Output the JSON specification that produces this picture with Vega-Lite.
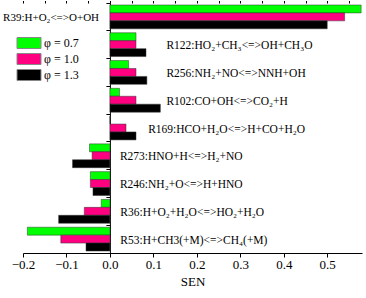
{
  "$schema": "https://vega.github.io/schema/vega-lite/v6.json",
  "width": 339,
  "height": 250,
  "autosize": "none",
  "padding": {"left": 23, "top": 3, "right": 4, "bottom": 45},
  "config": {
    "font": "Liberation Serif",
    "view": {"stroke": null},
    "axis": {"domainColor": "black", "tickColor": "black", "labelColor": "black", "titleColor": "black", "grid": false, "labelFont": "Liberation Serif", "titleFont": "Liberation Serif"}
  },
  "datasets": {
    "bars": [
      {"r": "R39", "phi": "0.7", "sen": 0.578}, {"r": "R39", "phi": "1.0", "sen": 0.540}, {"r": "R39", "phi": "1.3", "sen": 0.500},
      {"r": "R122", "phi": "0.7", "sen": 0.060}, {"r": "R122", "phi": "1.0", "sen": 0.060}, {"r": "R122", "phi": "1.3", "sen": 0.083},
      {"r": "R256", "phi": "0.7", "sen": 0.043}, {"r": "R256", "phi": "1.0", "sen": 0.060}, {"r": "R256", "phi": "1.3", "sen": 0.085},
      {"r": "R102", "phi": "0.7", "sen": 0.022}, {"r": "R102", "phi": "1.0", "sen": 0.060}, {"r": "R102", "phi": "1.3", "sen": 0.116},
      {"r": "R169", "phi": "0.7", "sen": 0.0}, {"r": "R169", "phi": "1.0", "sen": 0.037}, {"r": "R169", "phi": "1.3", "sen": 0.060},
      {"r": "R273", "phi": "0.7", "sen": -0.047}, {"r": "R273", "phi": "1.0", "sen": -0.041}, {"r": "R273", "phi": "1.3", "sen": -0.086},
      {"r": "R246", "phi": "0.7", "sen": -0.045}, {"r": "R246", "phi": "1.0", "sen": -0.045}, {"r": "R246", "phi": "1.3", "sen": -0.039},
      {"r": "R36", "phi": "0.7", "sen": -0.020}, {"r": "R36", "phi": "1.0", "sen": -0.059}, {"r": "R36", "phi": "1.3", "sen": -0.118},
      {"r": "R53", "phi": "0.7", "sen": -0.190}, {"r": "R53", "phi": "1.0", "sen": -0.113}, {"r": "R53", "phi": "1.3", "sen": -0.055}
    ],
    "labels": [
      {"r": "R39", "text": "R39:H+O₂<=>O+OH", "lx": -0.025},
      {"r": "R122", "text": "R122:HO₂+CH₃<=>OH+CH₃O", "lx": 0.130},
      {"r": "R256", "text": "R256:NH₂+NO<=>NNH+OH", "lx": 0.130},
      {"r": "R102", "text": "R102:CO+OH<=>CO₂+H", "lx": 0.130},
      {"r": "R169", "text": "R169:HCO+H₂O<=>H+CO+H₂O", "lx": 0.088},
      {"r": "R273", "text": "R273:HNO+H<=>H₂+NO", "lx": 0.023},
      {"r": "R246", "text": "R246:NH₂+O<=>H+HNO", "lx": 0.023},
      {"r": "R36", "text": "R36:H+O₂+H₂O<=>HO₂+H₂O", "lx": 0.024},
      {"r": "R53", "text": "R53:H+CH3(+M)<=>CH₄(+M)", "lx": 0.024}
    ]
  },
  "resolve": {"axis": {"x": "independent"}},
  "layer": [
    {
      "data": {"name": "bars"},
      "mark": {"type": "bar", "stroke": "#333333", "strokeWidth": 0.5},
      "encoding": {
        "y": {
          "field": "r", "type": "nominal",
          "scale": {"domain": ["R39", "R122", "R256", "R102", "R169", "R273", "R246", "R36", "R53"], "paddingInner": 0, "paddingOuter": 0},
          "axis": {"offset": -86.9, "labels": false, "title": null, "tickSize": 4, "bandPosition": 0, "domainWidth": 1}
        },
        "yOffset": {"field": "phi", "type": "nominal", "scale": {"domain": ["0.7", "1.0", "1.3"], "paddingOuter": 0.25, "paddingInner": 0}},
        "x": {
          "field": "sen", "type": "quantitative",
          "scale": {"domain": [-0.2, 0.58], "nice": false, "zero": false},
          "axis": {"values": [-0.2, -0.1, 0, 0.1, 0.2, 0.3, 0.4, 0.5], "format": ".1f", "title": "SEN", "labelFontSize": 13, "titleFontSize": 13, "titleFontWeight": "normal", "tickSize": 4, "labelPadding": 1, "titlePadding": 4, "labelFlush": false}
        },
        "color": {
          "field": "phi", "type": "nominal",
          "scale": {"domain": ["0.7", "1.0", "1.3"], "range": ["#00FF00", "#FF0080", "#000000"]},
          "legend": {"orient": "none", "legendX": 0, "legendY": 34, "title": null, "symbolType": "M-2.4,-1.1H2.4V1.1H-2.4Z", "symbolSize": 100, "symbolStrokeColor": "#888888", "symbolStrokeWidth": 1, "rowPadding": 0, "labelFont": "Liberation Serif", "labelFontSize": 12, "labelColor": "black", "labelOffset": 9, "labelExpr": "'φ = ' + datum.label", "padding": 0}
        }
      }
    },
    {
      "data": {"name": "labels"},
      "transform": [{"filter": "datum.r != 'R39'"}],
      "mark": {"type": "text", "align": "left", "baseline": "middle", "fontSize": 11.5, "dy": 1.5, "font": "Liberation Serif", "color": "black"},
      "encoding": {
        "y": {"field": "r", "type": "nominal", "scale": {"domain": ["R39", "R122", "R256", "R102", "R169", "R273", "R246", "R36", "R53"]}},
        "x": {"field": "lx", "type": "quantitative",
          "axis": {"values": [-0.2, -0.15, -0.1, -0.05, 0, 0.05, 0.1, 0.15, 0.2, 0.25, 0.3, 0.35, 0.4, 0.45, 0.5, 0.55], "labels": false, "domain": false, "title": null, "tickSize": 2.5}},
        "text": {"field": "text"}
      }
    },
    {
      "data": {"name": "labels"},
      "transform": [{"filter": "datum.r == 'R39'"}],
      "mark": {"type": "text", "align": "right", "baseline": "middle", "fontSize": 11, "dy": 1, "font": "Liberation Serif", "color": "black"},
      "encoding": {
        "y": {"field": "r", "type": "nominal"},
        "x": {"field": "lx", "type": "quantitative", "axis": null},
        "text": {"field": "text"}
      }
    }
  ]
}
